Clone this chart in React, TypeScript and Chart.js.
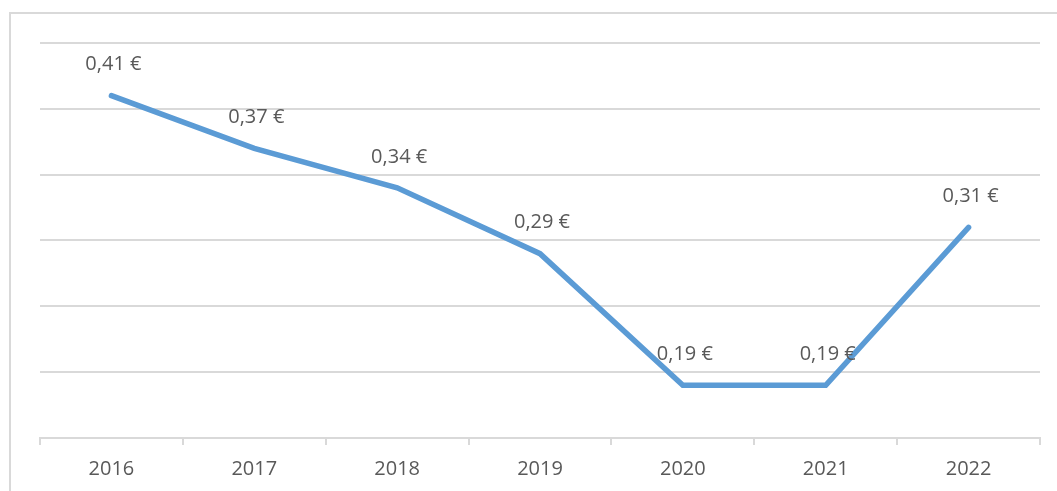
import React, { useEffect, useRef } from "react";
import { Chart, registerables } from "chart.js";

Chart.register(...registerables);

const years = ["2016", "2017", "2018", "2019", "2020", "2021", "2022"];
const prices = [0.41, 0.37, 0.34, 0.29, 0.19, 0.19, 0.31];
const yMin = 0.15;
const yMax = 0.45;
const yStep = 0.05;

const FONT = '"Open Sans", "DejaVu Sans", sans-serif';
const TEXT = "#595959";
const GRID = "#d9d9d9";

const fmt = (v: number) => v.toFixed(2).replace(".", ",") + " €";

const labelPlugin = {
  id: "pointLabels",
  afterDatasetsDraw(chart: any) {
    const ctx = chart.ctx;
    const meta = chart.getDatasetMeta(0);
    ctx.save();
    ctx.font = `20px ${FONT}`;
    ctx.fillStyle = TEXT;
    ctx.textAlign = "center";
    ctx.textBaseline = "middle";
    meta.data.forEach((pt: any, i: number) => {
      ctx.fillText(fmt(prices[i]), pt.x + 2, pt.y - 31);
    });
    ctx.restore();
  },
};

export default function App() {
  const ref = useRef<HTMLCanvasElement | null>(null);
  useEffect(() => {
    if (!ref.current) return;
    const chart = new Chart(ref.current, {
      type: "line",
      data: {
        labels: years,
        datasets: [
          {
            data: prices,
            borderColor: "#5B9BD5",
            borderWidth: 5.5,
            tension: 0,
            pointRadius: 0,
            pointHoverRadius: 0,
            borderCapStyle: "round",
            borderJoinStyle: "miter",
            fill: false,
          },
        ],
      },
      options: {
        animation: false,
        responsive: false,
        maintainAspectRatio: false,
        events: [],
        layout: { padding: { left: 40, right: 17, top: 43, bottom: 0 } },
        plugins: {
          legend: { display: false },
          tooltip: { enabled: false },
          title: { display: false },
        },
        scales: {
          x: {
            offset: true,
            grid: {
              display: true,
              offset: true,
              drawOnChartArea: false,
              drawTicks: true,
              tickLength: 7,
              color: GRID,
              lineWidth: 2,
            },
            border: { display: true, color: GRID, width: 2 },
            ticks: {
              color: TEXT,
              font: { family: FONT, size: 20 },
              padding: 12,
              maxRotation: 0,
            },
            afterFit: (s: any) => {
              s.height = 53;
            },
          },
          y: {
            min: yMin,
            max: yMax,
            grid: {
              color: GRID,
              lineWidth: 2,
              drawTicks: false,
            },
            border: { display: false },
            ticks: { display: false, stepSize: yStep },
            afterFit: (s: any) => {
              s.width = 0;
            },
          },
        },
      },
      plugins: [labelPlugin],
    });
    return () => chart.destroy();
  }, []);

  return (
    <div style={{ position: "absolute", left: 0, top: 0, width: 1057, height: 491, overflow: "hidden", background: "#fff" }}>
      <div
        style={{
          position: "absolute",
          left: 9,
          top: 12,
          width: 1100,
          height: 600,
          border: `2px solid ${GRID}`,
          boxSizing: "border-box",
        }}
      />
      <canvas ref={ref} width={1057} height={491} style={{ position: "absolute", left: 0, top: 0, width: 1057, height: 491 }} />
    </div>
  );
}
